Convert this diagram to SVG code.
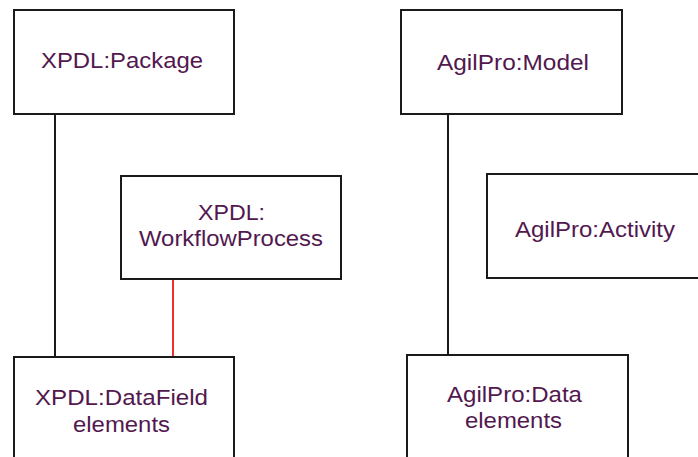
<svg xmlns="http://www.w3.org/2000/svg" width="698" height="457" viewBox="0 0 698 457">
<style>
.box{fill:#ffffff;stroke:#1a1a1a;stroke-width:2}
.lbl{font-family:"Liberation Sans",Arial,sans-serif;font-size:22.5px;fill:#52184f;text-anchor:middle}
.con{stroke:#1a1a1a;stroke-width:2;fill:none}
.red{stroke:#f03030;stroke-width:2;fill:none}
</style>
<rect width="698" height="457" fill="#ffffff"/>
<g id="connectors">
<line class="con" x1="55" y1="114" x2="55" y2="357"/>
<line class="red" x1="173" y1="279" x2="173" y2="357"/>
<line class="con" x1="448" y1="114" x2="448" y2="355"/>
</g>
<g id="xpdl-package">
<rect class="box" x="14" y="10" width="220" height="104"/>
<text class="lbl" x="122" y="68" textLength="162" lengthAdjust="spacingAndGlyphs">XPDL:Package</text>
</g>
<g id="xpdl-workflowprocess">
<rect class="box" x="121" y="176" width="220" height="103"/>
<text class="lbl" x="231.5" y="220" textLength="67" lengthAdjust="spacingAndGlyphs">XPDL:</text>
<text class="lbl" x="231" y="246" textLength="184" lengthAdjust="spacingAndGlyphs">WorkflowProcess</text>
</g>
<g id="xpdl-datafield">
<rect class="box" x="14" y="357" width="220" height="110"/>
<text class="lbl" x="121.5" y="405" textLength="173" lengthAdjust="spacingAndGlyphs">XPDL:DataField</text>
<text class="lbl" x="121.5" y="432" textLength="97" lengthAdjust="spacingAndGlyphs">elements</text>
</g>
<g id="agilpro-model">
<rect class="box" x="401" y="10" width="221" height="104"/>
<text class="lbl" x="513" y="70" textLength="152" lengthAdjust="spacingAndGlyphs">AgilPro:Model</text>
</g>
<g id="agilpro-activity">
<rect class="box" x="487" y="174" width="230" height="104"/>
<text class="lbl" x="595" y="237" textLength="160" lengthAdjust="spacingAndGlyphs">AgilPro:Activity</text>
</g>
<g id="agilpro-data">
<rect class="box" x="407" y="355" width="221" height="112"/>
<text class="lbl" x="514.5" y="402" textLength="135" lengthAdjust="spacingAndGlyphs">AgilPro:Data</text>
<text class="lbl" x="513.5" y="428" textLength="97" lengthAdjust="spacingAndGlyphs">elements</text>
</g>
</svg>
